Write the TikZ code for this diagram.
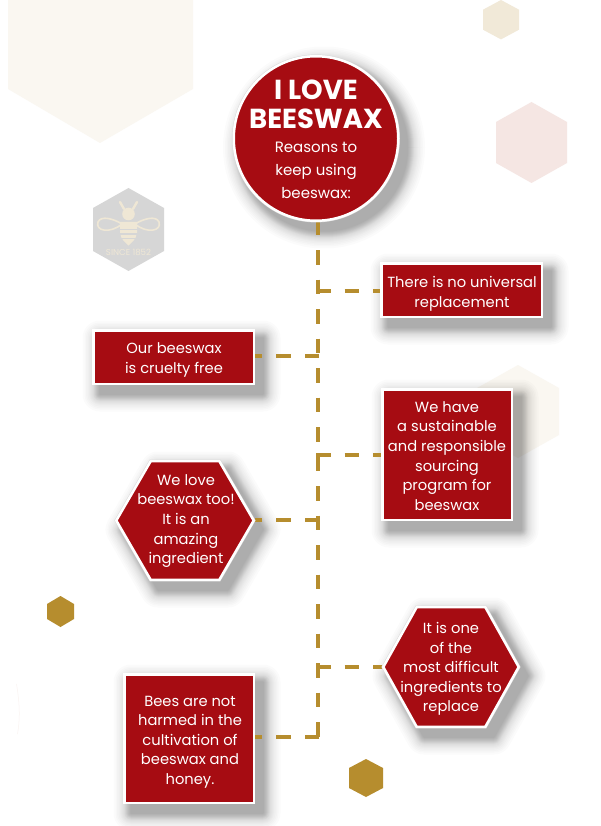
\documentclass[tikz,border=0pt]{standalone}
\usepackage{fontspec}
\setmainfont{Poppins}
\pgfdeclarelayer{decor}
\pgfdeclarelayer{shade}
\pgfdeclarelayer{conn}
\pgfsetlayers{decor,shade,conn,main}
\definecolor{wred}{HTML}{A60C12}
\definecolor{wgold}{HTML}{B68D2E}
\definecolor{wcream}{HTML}{FAF7F1}
\definecolor{wsand}{HTML}{F1E9D8}
\definecolor{wpink}{HTML}{F5E6E3}
\definecolor{wgrey}{HTML}{D6D6D6}
\definecolor{wbee}{HTML}{EFE7D5}
\definecolor{wedge}{HTML}{D8D8D8}
\tikzset{
  conn/.style={draw=wgold,line width=4pt,dash pattern=on 14.75pt off 14.75pt},
  branch/.style={draw=wgold,line width=4pt,dash pattern=on 14.5pt off 14pt},
  shad/.style={draw=black,fill=black,line join=round},
  redbox/.style={rectangle,fill=wred,draw=white,line width=2.5pt,outer sep=0pt,inner sep=0pt,
     preaction={draw=wedge,line width=3.3pt},text=white,align=center},
  hextext/.style={rectangle,inner sep=0pt,outer sep=0pt,text=white,align=center,
     font=\fontsize{14.7}{19.6}\selectfont},
  hexface/.style={fill=wred,draw=white,line width=2.5pt,line join=miter,
     preaction={draw=wedge,line width=3.3pt}},
  circtext/.style={text=white,align=center,inner sep=0pt}
}
% flat-top hexagon: cx, cy, half width, half width of top edge, half height
\newcommand\flathex[5]{(#1-#3,#2) -- (#1-#4,#2-#5) -- (#1+#4,#2-#5) -- (#1+#3,#2) -- (#1+#4,#2+#5) -- (#1-#4,#2+#5) -- cycle}
% pointy-top hexagon: cx, cy, half width, half height, half side
\newcommand\pointhex[5]{(#1,#2-#4) -- (#1+#3,#2-#5) -- (#1+#3,#2+#5) -- (#1,#2+#4) -- (#1-#3,#2+#5) -- (#1-#3,#2-#5) -- cycle}
\newcommand\softshadow[1]{\foreach \w in {1,2,3,4,5,6,7,8,9,10,11,12,13,14,16,18,20,22,25,28,31,35}{\begin{scope}[transparency group,opacity=0.016]\draw[shad,line width=\w pt,shift={(8,9)}] #1;\end{scope}}}
\begin{document}
\begin{tikzpicture}[x=1pt,y=-1pt]
\useasboundingbox (0,0) rectangle (600,826);
\begin{pgfonlayer}{decor}
  \fill[white] (0,0) rectangle (600,826);
  \fill[wcream] (8,0) -- (193,0) -- (193,89) -- (100,143) -- (8,89) -- cycle;
  \fill[wsand] \pointhex{501}{19.7}{18}{19.7}{10};
  \fill[wpink] \pointhex{531.5}{142.5}{35.5}{40.5}{20.5};
  \fill[wcream] \pointhex{518}{411.5}{41}{46.5}{23.5};
  \fill[wgold] \pointhex{60.5}{611.5}{13.5}{15.5}{7.5};
  \fill[wgold] \pointhex{366}{778}{17}{19}{10};
  \draw[wpink!50,line width=0.5pt] (16.5,684) .. controls (20,705) and (20,720) .. (17.5,734);
  % bee badge
  \fill[wgrey] \pointhex{128.5}{229.5}{35.5}{41.5}{21.5};
  \begin{scope}[wbee]
    \draw[line width=2.4pt,line cap=round] (124,209) -- (120,202);
    \draw[line width=2.4pt,line cap=round] (133,209) -- (137,202);
    \fill (128.5,214) circle (6.3);
    \draw[line width=1.6pt] (122,224) .. controls (114,219) and (101,215) .. (98,222) .. controls (95,231) and (110,234) .. (122,224);
    \draw[line width=1.6pt] (135,224) .. controls (143,219) and (156,215) .. (159,222) .. controls (162,231) and (147,234) .. (135,224);
    \fill (120,222) -- (137,222) -- (137,233) .. controls (136,240) and (131,243) .. (128.5,245.5) .. controls (126,243) and (121,240) .. (120,233) -- cycle;
    \fill[wgrey] (119,228.5) rectangle (138,230.2);
    \fill[wgrey] (119,233) rectangle (138,234.7);
    \fill[wgrey] (120,237.5) rectangle (137,239.2);
  \end{scope}
  \node[text=wbee,font=\fontsize{8.6}{10}\selectfont,inner sep=0pt] (badge) at (128.5,252.5) {SINCE 1852};
\end{pgfonlayer}
\begin{pgfonlayer}{shade}
  \softshadow{(316,138.5) circle (83.5)}
  \softshadow{(380,262) rectangle (543,318)}
  \softshadow{(92,329) rectangle (255,385)}
  \softshadow{(381,388) rectangle (513,521)}
  \softshadow{(123,673) rectangle (255,804)}
  \softshadow{\flathex{185}{520.5}{70}{35}{60.5}}
  \softshadow{\flathex{451}{667}{69}{35}{61}}
\end{pgfonlayer}
% central circle
\node[circle,fill=wred,draw=white,line width=2.5pt,preaction={draw=wedge,line width=3.3pt},minimum size=164.5pt,inner sep=0pt,outer sep=0pt] (circ) at (316,138.5) {};
\node[circtext,font=\bfseries\fontsize{27.5}{29}\selectfont] (ctitle) at (316,104.5) {I LOVE\\BEESWAX};
\node[circtext,font=\fontsize{15}{23}\selectfont] (csub) at (316,170) {Reasons to\\keep using\\beeswax:};
% rectangles
\node[redbox,minimum width=160.5pt,minimum height=53.5pt] (b1) at (461.5,290) {};
\node[hextext] (b1t) at (462,294) {There is no universal\\replacement};
\node[redbox,minimum width=160.5pt,minimum height=53.5pt] (b2) at (173.5,357) {};
\node[hextext] (b2t) at (174,360) {Our beeswax\\is cruelty free};
\node[redbox,minimum width=129.5pt,minimum height=130.5pt] (b3) at (447,454.5) {};
\node[hextext] (b3t) at (447,456) {We have\\a sustainable\\and responsible\\sourcing\\program for\\beeswax};
\node[redbox,minimum width=129.5pt,minimum height=128.5pt] (b4) at (189,738.5) {};
\node[hextext] (b4t) at (190,742) {Bees are not\\harmed in the\\cultivation of\\beeswax and\\honey.};
% hexagons
\draw[hexface] \flathex{185}{520.5}{68.7}{34.3}{59.3};
\node[hextext,minimum width=140pt,minimum height=121pt] (h1) at (185,520.5) {};
\node[hextext] (h1t) at (186,521) {We love\\beeswax too!\\It is an\\amazing\\ingredient};
\draw[hexface] \flathex{451}{667}{67.7}{34.3}{59.8};
\node[hextext,minimum width=138pt,minimum height=122pt] (h2) at (451,667) {};
\node[hextext] (h2t) at (451,669) {It is one\\of the\\most difficult\\ingredients to\\replace};
% connector points
\coordinate (top) at (317.5,220.5);
\coordinate (bottom) at (317.5,737.5);
\coordinate (t1) at (316,291);
\coordinate (t2) at (319,356);
\coordinate (t3) at (316,454.5);
\coordinate (t4) at (319,520);
\coordinate (t5) at (316,667);
\coordinate (t6) at (319,737);
\begin{pgfonlayer}{conn}
  \draw[conn] (top) -- (bottom);
  \draw[branch] (t1) -- (t1 -| b1.west);
  \draw[branch] (t2) -- (t2 -| b2.east);
  \draw[branch] (t3) -- (t3 -| b3.west);
  \draw[branch] (t4) -- (t4 -| h1.east);
  \draw[branch] (t5) -- (t5 -| h2.west);
  \draw[branch] (t6) -- (t6 -| b4.east);
\end{pgfonlayer}
\end{tikzpicture}
\end{document}
